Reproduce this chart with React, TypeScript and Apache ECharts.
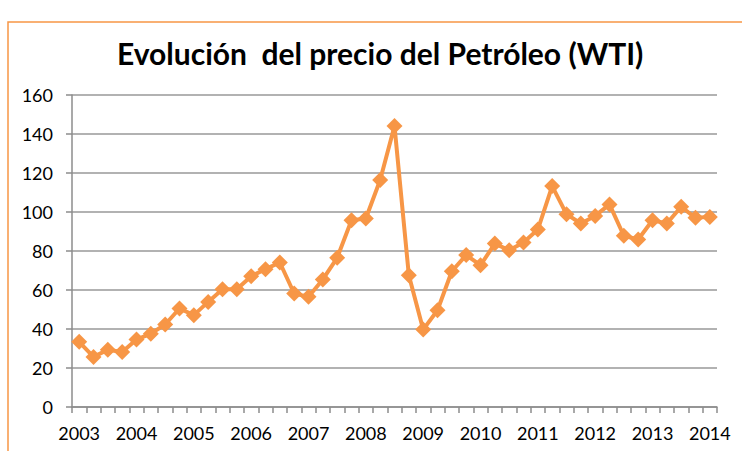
import React, { useEffect, useRef } from "react";
import * as echarts from "echarts";

const title = "Evolución  del precio del Petróleo (WTI)";
const years = ["2003", "2004", "2005", "2006", "2007", "2008", "2009", "2010", "2011", "2012", "2013", "2014"];
const quarters = ["T1", "T2", "T3", "T4"];
// quarterly WTI price, 2003 T1 .. 2014 T1
const prices = [
  33.4, 25.7, 29.4, 28.2,
  34.6, 37.6, 42.3, 50.5,
  47.1, 53.9, 60.4, 60.4,
  67.1, 70.7, 74.1, 58.2,
  56.5, 65.4, 76.5, 95.8,
  96.7, 116.4, 144.1, 67.6,
  39.7, 49.6, 69.6, 77.9,
  72.7, 83.8, 80.4, 84.4,
  91.0, 113.3, 98.9, 94.1,
  98.0, 103.9, 87.8, 85.9,
  95.8, 94.1, 102.7, 97.0,
  97.5,
];
const categories: string[] = [];
years.forEach((y) => quarters.forEach((q) => categories.push(y + " " + q)));
const cats = categories.slice(0, prices.length);

const yTicks = { min: 0, max: 160, interval: 20 };

export default function App() {
  const ref = useRef<HTMLDivElement>(null);
  useEffect(() => {
    const chart = echarts.init(ref.current!, null, { renderer: "svg" });
    chart.setOption({
      animation: false,
      backgroundColor: "#ffffff",
      textStyle: { fontFamily: "Lato, 'Open Sans', sans-serif" },
      graphic: [
        {
          type: "rect",
          shape: { x: 8, y: 22, width: 760, height: 460 },
          style: { fill: "none", stroke: "#F79646", lineWidth: 1.5 },
          silent: true,
          z: -1,
        },
      ],
      title: {
        text: title,
        left: 112,
        top: 33,
        textStyle: { fontFamily: "Lato, sans-serif", fontWeight: "bold", fontSize: 30, color: "#000000" },
      },
      grid: { left: 72, right: 25, top: 95, bottom: 44, containLabel: false },
      xAxis: {
        type: "category",
        data: cats,
        boundaryGap: true,
        axisLine: { lineStyle: { color: "#8c8c8c", width: 1.5 } },
        axisTick: { show: true, interval: 0, length: 6, lineStyle: { color: "#8c8c8c", width: 1.5 } },
        axisLabel: {
          interval: 3,
          formatter: (v: string) => v.slice(0, 4),
          color: "#000000",
          fontSize: 18,
          margin: 17,
          fontFamily: "Lato, sans-serif",
        },
        splitLine: { show: false },
      },
      yAxis: {
        type: "value",
        min: yTicks.min,
        max: yTicks.max,
        interval: yTicks.interval,
        axisLine: { show: true, lineStyle: { color: "#8c8c8c", width: 1.5 } },
        axisTick: { show: true, length: 6, lineStyle: { color: "#8c8c8c", width: 1.5 } },
        axisLabel: { color: "#000000", fontSize: 18, margin: 19, fontFamily: "Lato, sans-serif" },
        splitLine: { show: true, lineStyle: { color: "#999999", width: 1.5 } },
      },
      series: [
        {
          type: "line",
          data: prices,
          symbol: "diamond",
          symbolSize: 16,
          showAllSymbol: true,
          lineStyle: { color: "#F79646", width: 4 },
          itemStyle: { color: "#F79646" },
          z: 3,
        },
      ],
    });
    return () => chart.dispose();
  }, []);
  return (
    <div
      ref={ref}
      style={{ position: "absolute", left: 0, top: 0, width: 742, height: 451 }}
    />
  );
}
